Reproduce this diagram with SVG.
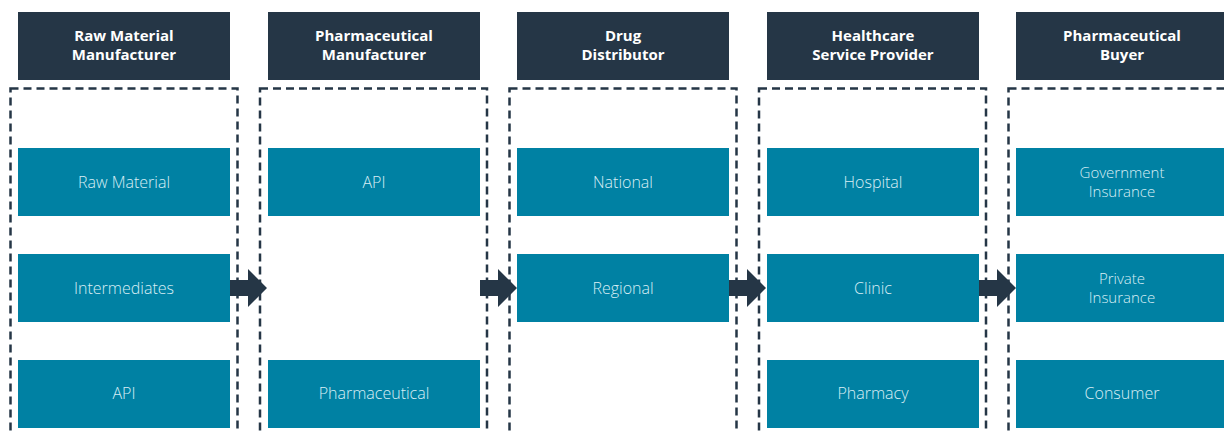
<svg xmlns="http://www.w3.org/2000/svg" width="1224" height="432" viewBox="0 0 1224 432">
  <defs>
    <style>
      .hdr { fill: #253646; }
      .hdr-t { fill: #ffffff; font-family: "Open Sans", Lato, sans-serif; font-weight: 700; font-size: 15px; text-anchor: middle; }
      .lane { fill: none; stroke: #253646; stroke-width: 2.5; stroke-dasharray: 8 5; }
      .item { fill: #0081a3; }
      .item-t { fill: #d8eef5; font-family: "Open Sans", Lato, sans-serif; font-weight: 300; font-size: 16px; text-anchor: middle; }
      .item-t.two { font-size: 15px; }
      .flow { fill: #253646; }
    </style>
    <path id="arrow" class="flow" d="M0,-8 H18 V-19 L37,0 L18,19 V8 H0 Z"/>
  </defs>
  <rect width="1224" height="432" fill="#ffffff"/>

  <!-- column 1 -->
  <g id="raw-material-manufacturer">
    <rect class="hdr" x="18" y="12" width="212" height="68"/>
    <text class="hdr-t" x="124" y="41">Raw Material<tspan x="124" dy="19">Manufacturer</tspan></text>
    <rect class="lane" x="10.5" y="88.5" width="227" height="360"/>
  </g>
  <g id="raw-material"><rect class="item" x="18" y="148" width="212" height="68"/><text class="item-t" x="124" y="188">Raw Material</text></g>
  <g id="intermediates"><rect class="item" x="18" y="254" width="212" height="68"/><text class="item-t" x="124" y="294">Intermediates</text></g>
  <g id="api-1"><rect class="item" x="18" y="360" width="212" height="68"/><text class="item-t" x="124" y="399">API</text></g>

  <!-- column 2 -->
  <g id="pharmaceutical-manufacturer">
    <rect class="hdr" x="268" y="12" width="212" height="68"/>
    <text class="hdr-t" x="374" y="41">Pharmaceutical<tspan x="374" dy="19">Manufacturer</tspan></text>
    <rect class="lane" x="260" y="88.5" width="227" height="360"/>
  </g>
  <g id="api-2"><rect class="item" x="268" y="148" width="212" height="68"/><text class="item-t" x="374" y="188">API</text></g>
  <g id="pharmaceutical"><rect class="item" x="268" y="360" width="212" height="68"/><text class="item-t" x="374" y="399">Pharmaceutical</text></g>

  <!-- column 3 -->
  <g id="drug-distributor">
    <rect class="hdr" x="517" y="12" width="212" height="68"/>
    <text class="hdr-t" x="623" y="41">Drug<tspan x="623" dy="19">Distributor</tspan></text>
    <rect class="lane" x="509.5" y="88.5" width="227" height="360"/>
  </g>
  <g id="national"><rect class="item" x="517" y="148" width="212" height="68"/><text class="item-t" x="623" y="188">National</text></g>
  <g id="regional"><rect class="item" x="517" y="254" width="212" height="68"/><text class="item-t" x="623" y="294">Regional</text></g>

  <!-- column 4 -->
  <g id="healthcare-service-provider">
    <rect class="hdr" x="767" y="12" width="212" height="68"/>
    <text class="hdr-t" x="873" y="41">Healthcare<tspan x="873" dy="19">Service Provider</tspan></text>
    <rect class="lane" x="759" y="88.5" width="227" height="360"/>
  </g>
  <g id="hospital"><rect class="item" x="767" y="148" width="212" height="68"/><text class="item-t" x="873" y="188">Hospital</text></g>
  <g id="clinic"><rect class="item" x="767" y="254" width="212" height="68"/><text class="item-t" x="873" y="294">Clinic</text></g>
  <g id="pharmacy"><rect class="item" x="767" y="360" width="212" height="68"/><text class="item-t" x="873" y="399">Pharmacy</text></g>

  <!-- column 5 -->
  <g id="pharmaceutical-buyer">
    <rect class="hdr" x="1016" y="12" width="212" height="68"/>
    <text class="hdr-t" x="1122" y="41">Pharmaceutical<tspan x="1122" dy="19">Buyer</tspan></text>
    <rect class="lane" x="1008.5" y="88.5" width="227" height="360"/>
  </g>
  <g id="government-insurance"><rect class="item" x="1016" y="148" width="212" height="68"/><text class="item-t two" x="1122" y="177.5">Government<tspan x="1122" dy="19">Insurance</tspan></text></g>
  <g id="private-insurance"><rect class="item" x="1016" y="254" width="212" height="68"/><text class="item-t two" x="1122" y="283.5">Private<tspan x="1122" dy="19">Insurance</tspan></text></g>
  <g id="consumer"><rect class="item" x="1016" y="360" width="212" height="68"/><text class="item-t" x="1122" y="399">Consumer</text></g>

  <!-- flow arrows between stages -->
  <g id="connectors">
    <use href="#arrow" x="230" y="288"/>
    <use href="#arrow" x="480" y="288"/>
    <use href="#arrow" x="729" y="288"/>
    <use href="#arrow" x="979" y="288"/>
  </g>
</svg>
